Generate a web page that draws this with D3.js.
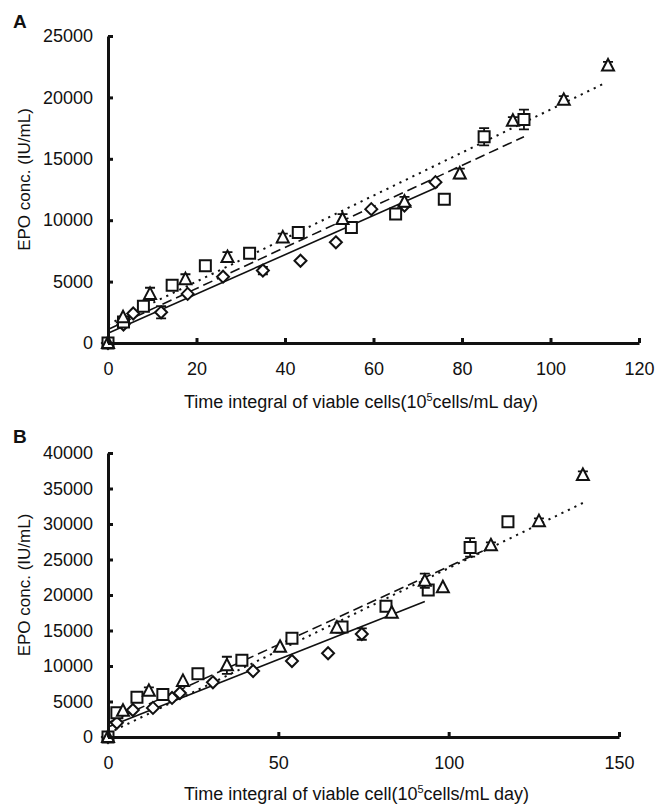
<!DOCTYPE html>
<html>
<head>
<meta charset="UTF-8">
<title>EPO</title>
<script src="https://cdn.jsdelivr.net/npm/d3@7"></script>
<style>
  body { margin:0; background:#fff; }
  svg text { font-family: "Liberation Sans", Arial, sans-serif; fill:#111; }
</style>
</head>
<body>
<svg id="chart" width="667" height="805"></svg>
<script>
// ---- data: [x, y, error] ----
// panel A
var aDiamond = [[0,0,0],[3.5,1500,0],[5.7,2400,0],[12,2500,500],[18,4000,0],[26,5400,0],
                [35,5900,300],[43.5,6700,0],[51.5,8200,0],[59.5,10900,0],[67,11200,0],[74,13100,0]];
var aSquare  = [[0,0,0],[3.5,1700,0],[8,3000,0],[14.5,4700,0],[22,6300,0],[32,7300,0],
                [43,9000,0],[55,9400,0],[65,10500,0],[76,11700,0],[85,16800,700],[94,18200,800]];
var aTriangle= [[0,0,0],[3.4,2100,0],[9.5,4000,500],[17.5,5200,400],[27,7000,400],[39.5,8600,300],
                [53,10100,400],[67,11500,400],[79.5,13800,400],[91.5,18100,300],[103,19800,300],[113,22600,300]];
// fitted lines, [x,y] end points
var aFitSolid  = [[0,800],[74.5,12700]];
var aFitDashed = [[0,1100],[94,16800]];
var aFitDotted = [[0,1500],[112.5,21200]];

// panel B
var bDiamond = [[0,0,0],[2.6,2000,0],[7.3,3800,0],[13.2,4100,0],[18.8,5500,0],[21.1,6200,0],
                [30.8,7700,0],[42.6,9300,0],[54,10700,0],[64.6,11800,0],[74.5,14500,800]];
var bSquare  = [[0,0,0],[2.6,3400,0],[8.5,5600,0],[16.1,6000,0],[26.4,8900,0],[39.3,10800,0],
                [54,13900,0],[68.7,15500,0],[81.6,18400,0],[94,20700,0],[106.3,26700,1300],[117.4,30300,0]];
var bTriangle= [[0,0,0],[4.4,3700,0],[12,6500,500],[22,7900,0],[34.9,10100,1200],[50.5,12700,0],
                [67.2,15400,0],[83.3,17500,0],[93,22000,1000],[98.3,21100,0],[112.4,27000,400],
                [126.5,30400,400],[139.4,36900,500]];
var bFitSolid  = [[0,1400],[93,19100]];
var bFitDashed = [[0,2000],[110,26200]];
var bFitDotted = [[0,500],[140,33100]];

var aXTicks = [0,20,40,60,80,100,120];
var aYTicks = [0,5000,10000,15000,20000,25000];
var bXTicks = [0,50,100,150];
var bYTicks = [0,5000,10000,15000,20000,25000,30000,35000,40000];

var svg = d3.select("#chart");

function diamondPath(s){ return "M0,"+(-s)+"L"+s+",0L0,"+s+"L"+(-s)+",0Z"; }
var shapes = {
  diamond: diamondPath(6),
  square: "M-5.5,-5.5H5.5V5.5H-5.5Z",
  triangle: "M0,-6.5L6,5L-6,5Z"
};

function panel(opt){
  var g = svg.append("g");
  var x = opt.x, y = opt.y;

  // fitted lines
  var line = d3.line().x(function(d){return x(d[0]);}).y(function(d){return y(d[1]);});
  [[opt.fits[0],null,1.6],[opt.fits[1],"10,5",1.6],[opt.fits[2],"2.2,5",2]].forEach(function(f){
    g.append("path").datum(f[0]).attr("d",line)
      .attr("fill","none").attr("stroke","#111").attr("stroke-width",f[2])
      .attr("stroke-dasharray",f[1]);
  });

  // markers + error bars
  [["diamond",opt.series[0]],["square",opt.series[1]],["triangle",opt.series[2]]].forEach(function(s){
    var pts = g.append("g").selectAll("g").data(s[1]).enter().append("g")
      .attr("transform",function(d){return "translate("+x(d[0])+","+y(d[1])+")";});
    pts.filter(function(d){return d[2]>0;}).each(function(d){
      var e = d3.select(this), dy = y(d[1]-d[2]) - y(d[1]);
      e.append("path").attr("d","M0,"+(-dy)+"V"+dy+"M-5,"+(-dy)+"H5M-5,"+dy+"H5")
        .attr("stroke","#111").attr("stroke-width",1.8).attr("fill","none");
    });
    pts.append("path").attr("d",shapes[s[0]])
      .attr("fill","#fff").attr("stroke","#111").attr("stroke-width",2);
  });

  // axes
  var ax = g.append("g").attr("transform","translate(0,"+y(0)+")")
    .call(d3.axisBottom(x).tickValues(opt.xTicks).tickSizeInner(-5).tickSizeOuter(0).tickPadding(19));
  var ay = g.append("g").attr("transform","translate("+x(0)+",0)")
    .call(d3.axisLeft(y).tickValues(opt.yTicks).tickFormat(d3.format("d")).tickSizeInner(-5).tickSizeOuter(0).tickPadding(15));
  [ax,ay].forEach(function(a){
    a.select(".domain").attr("stroke","#111").attr("stroke-width",3);
    a.selectAll(".tick line").attr("stroke","#111").attr("stroke-width",3);
    a.selectAll(".tick text").attr("font-size",18).attr("fill","#111")
      .attr("font-family","Liberation Sans, Arial, sans-serif");
  });

  // titles
  g.append("text").attr("x",13).attr("y",opt.letterY).attr("font-size",19)
    .attr("font-weight","bold").text(opt.letter);
  g.append("text").attr("transform","translate(30,"+((y.range()[0]+y.range()[1])/2 - 10)+") rotate(-90)")
    .attr("text-anchor","middle").attr("font-size",17).text("EPO conc. (IU/mL)");
  var t = g.append("text").attr("x",184).attr("y",opt.titleY).attr("font-size",18);
  t.append("tspan").text(opt.title + "(10");
  t.append("tspan").attr("dy",-7).attr("font-size",11).text("5");
  t.append("tspan").attr("dy",7).text("cells/mL day)");
}

panel({
  x: d3.scaleLinear().domain([0,120]).range([108,639]),
  y: d3.scaleLinear().domain([0,25000]).range([343,36]),
  series: [aDiamond,aSquare,aTriangle],
  fits: [aFitSolid,aFitDashed,aFitDotted],
  xTicks: aXTicks, yTicks: aYTicks,
  letter: "A", letterY: 28, titleY: 408,
  title: "Time integral of viable cells"
});
panel({
  x: d3.scaleLinear().domain([0,150]).range([108,619]),
  y: d3.scaleLinear().domain([0,40000]).range([737,453]),
  series: [bDiamond,bSquare,bTriangle],
  fits: [bFitSolid,bFitDashed,bFitDotted],
  xTicks: bXTicks, yTicks: bYTicks,
  letter: "B", letterY: 443, titleY: 800,
  title: "Time integral of viable cell"
});
</script>
</body>
</html>
